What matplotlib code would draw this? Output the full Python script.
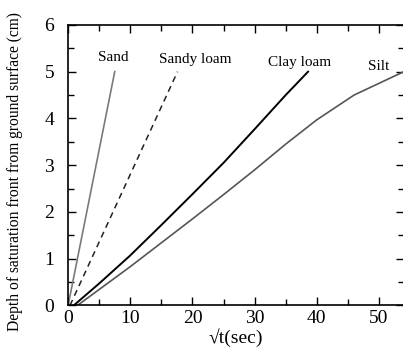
import numpy as np
import matplotlib
matplotlib.use('Agg')
from matplotlib import pyplot as plt
from matplotlib.ticker import MultipleLocator

sand_x = [0.0, 7.5]
sand_y = [0.0, 5.0]
sandy_x = [0.3, 17.6]
sandy_y = [0.0, 5.0]
clay_x = [0.9, 5.0, 10.0, 15.0, 20.0, 25.0, 30.0, 35.0, 38.6]
clay_y = [0.0, 0.47, 1.07, 1.72, 2.38, 3.05, 3.77, 4.5, 5.0]
silt_x = [1.5, 10.0, 20.0, 25.0, 30.0, 35.0, 40.0, 46.0, 54.0]
silt_y = [0.0, 0.83, 1.85, 2.37, 2.9, 3.45, 3.97, 4.5, 5.0]

labels = ['Sand', 'Sandy loam', 'Clay loam', 'Silt']
label_pos = [(7.2, 5.3), (20.5, 5.25), (37.2, 5.2), (50.0, 5.12)]

plt.rcParams['font.family'] = ['Liberation Serif', 'DejaVu Serif']

fig = plt.figure(figsize=(4.03, 3.56), dpi=100)
ax = fig.add_axes([0.169, 0.142, 0.833, 0.788])

ax.plot(sand_x, sand_y, color='#7a7a7a', lw=1.2)
ax.plot(sandy_x, sandy_y, color='#222222', lw=1.1, ls=(0, (4, 3)))
ax.plot(clay_x, clay_y, color='black', lw=1.4)
ax.plot(silt_x, silt_y, color='#555555', lw=1.2)

for lab, (lx, ly) in zip(labels, label_pos):
    ax.text(lx, ly, lab, fontsize=11, ha='center', va='center')

ax.set_xlim(0, 54)
ax.set_ylim(0, 6)
ax.xaxis.set_major_locator(MultipleLocator(10))
ax.xaxis.set_minor_locator(MultipleLocator(5))
ax.yaxis.set_major_locator(MultipleLocator(1))
ax.yaxis.set_minor_locator(MultipleLocator(0.5))
ax.tick_params(which='both', direction='in', top=True, right=True, width=1)
ax.tick_params(which='major', length=6, labelsize=14)
ax.tick_params(axis='x', which='major', pad=3)
ax.tick_params(axis='y', which='major', pad=10)
ax.tick_params(which='minor', length=4)
for s in ax.spines.values():
    s.set_linewidth(1.2)

ax.set_xlabel('\u221at(sec)', fontsize=14, labelpad=1)
yl = ax.set_ylabel('Depth of saturation front from ground surface (cm)', fontsize=11.2)
yl.set_va('center')
ax.yaxis.set_label_coords(-0.159, 0.479)

fig.savefig('out.png', dpi=100)
